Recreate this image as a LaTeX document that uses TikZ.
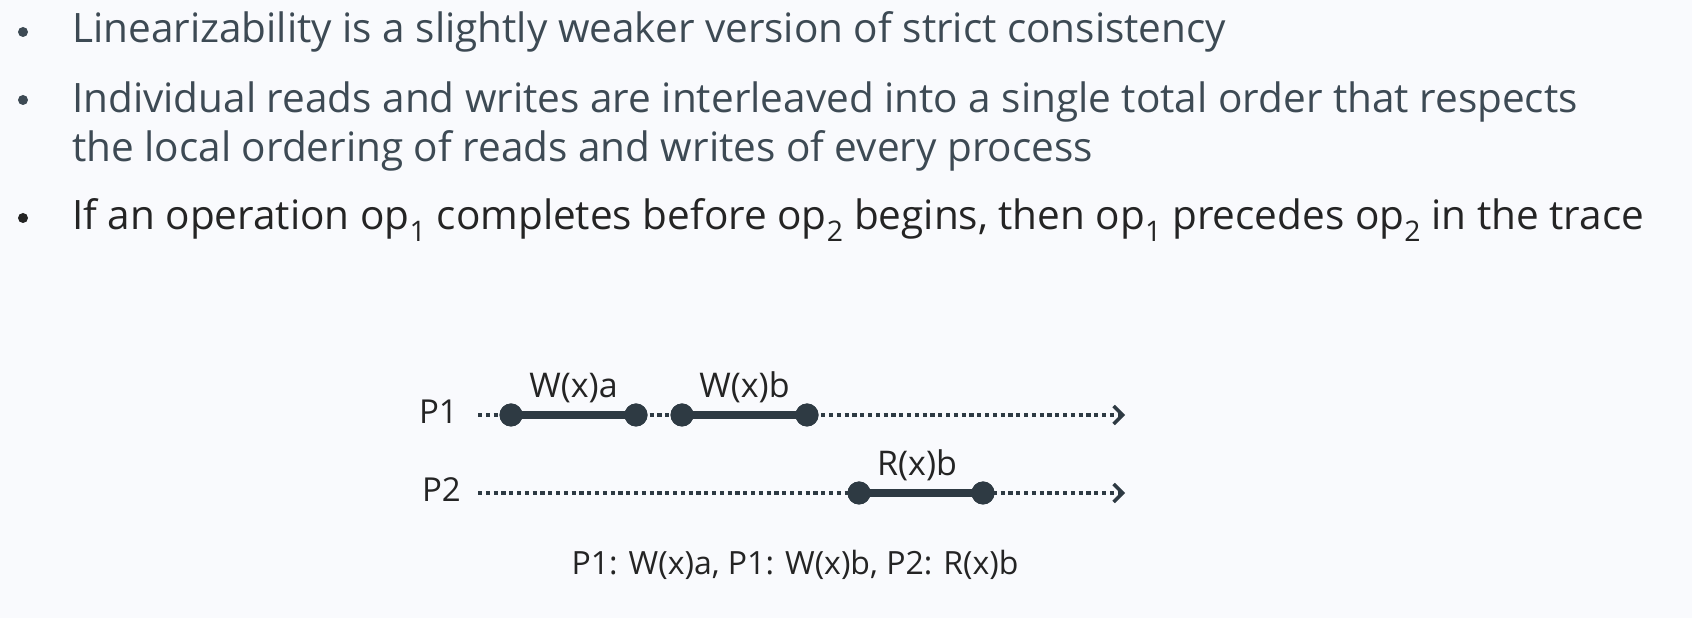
\documentclass[tikz,border=0pt]{standalone}
\usepackage{fontspec}
\setmainfont{Open Sans}
\usetikzlibrary{positioning,arrows.meta,calc}
\definecolor{slidebg}{HTML}{F9FAFD}
\definecolor{slate}{HTML}{3D4A54}
\definecolor{ink}{HTML}{242424}
\definecolor{bar}{HTML}{2E3A43}
\newcommand{\opn}[1]{op\textsubscript{#1}}

\begin{document}
\begin{tikzpicture}[x=1pt,y=1pt,
	  bulletdot/.style={circle,fill=#1,inner sep=0pt,minimum size=10pt},
	  item/.style={anchor=base west,inner sep=0pt,font=\fontsize{40.5}{46}\selectfont,text=#1},
	  proc/.style={inner sep=0pt,font=\fontsize{34}{38}\selectfont,text=ink},
	  event/.style={circle,fill=bar,inner sep=0pt,minimum size=23pt},
	  timeline/.style={line width=3.6pt,draw=bar,dash pattern=on 4.2pt off 3.6pt,
	    -{Straight Barb[length=9pt,width=18pt,line width=3.4pt]}},
	  opbar/.style={line width=8.5pt,draw=bar},
	  oplabel/.style={proc,anchor=base,yshift=17pt}]
	  \fill[slidebg] (0,0) rectangle (1692,618);
	  % bullets
	  \node[bulletdot=slate] (b1) at (23,586) {};
	  \node[bulletdot=slate] (b2) at (23,518) {};
	  \node[bulletdot=ink]   (b3) at (23,400) {};
	  \node[item=slate] (l1) at (72,575) {Linearizability is a slightly weaker version of strict consistency};
	  \node[item=slate] (l2) at (72,505) {Individual reads and writes are interleaved into a single total order that respects};
	  \node[item=slate] (l3) at (72,456) {the local ordering of reads and writes of every process};
	  \node[item=ink]   (l4) at (72,388) {If an operation \opn{1} completes before \opn{2} begins, then \opn{1} precedes \opn{2} in the trace};
	  % timelines
	  \coordinate (p1start) at (478,203);
	  \coordinate (p2start) at (478,125);
	  \coordinate (p1end) at (1125,203);
	  \coordinate (p2end) at (1125,125);
	  \node[proc,anchor=base east,font=\fontsize{33}{38}\selectfont] (p1) at ($(p1start)+(-20,-9)$) {P1};
	  \node[proc,anchor=base east,font=\fontsize{33}{38}\selectfont] (p2) at ($(p2start)+(-17,-9)$) {P2};
	  \node[event] (wa1) at (511,203) {};
	  \node[event] (wa2) at (636,203) {};
	  \node[event] (wb1) at (682,203) {};
	  \node[event] (wb2) at (807,203) {};
	  \node[event] (rb1) at (859,125) {};
	  \node[event] (rb2) at (983,125) {};
	  \path[timeline] (p1start) -- (p1end);
	  \path[timeline] (p2start) -- (p2end);
	  \path[opbar]
	  (wa1.center) edge node[oplabel] {W(x)a} (wa2.center)
	  (wb1.center) edge node[oplabel] {W(x)b} (wb2.center)
	  (rb1.center) edge node[oplabel,xshift=-4pt] {R(x)b} (rb2.center);
	  \foreach \e in {wa1,wa2,wb1,wb2,rb1,rb2}
	    \node[event] at (\e) {};
	  % trace
	  \node[proc,anchor=base,font=\fontsize{32}{36}\selectfont] (trace) at (795,43) {P1: W(x)a, P1: W(x)b, P2: R(x)b};
	\end{tikzpicture}
\end{document}
